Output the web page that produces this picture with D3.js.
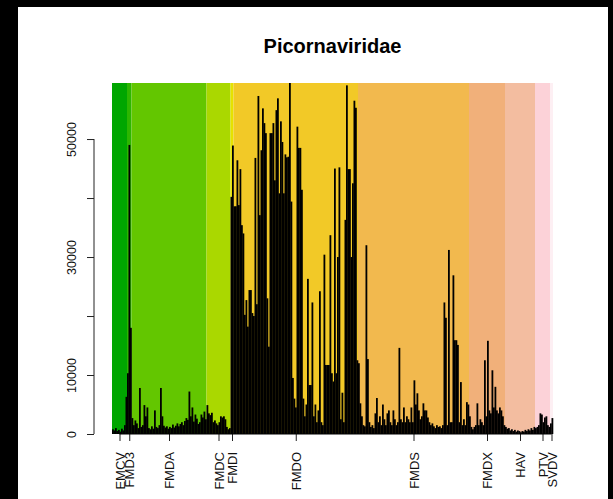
<!DOCTYPE html>
<html><head><meta charset="utf-8">
<script src="https://cdn.jsdelivr.net/npm/d3@7"></script>
<style>html,body{margin:0;padding:0;background:#000;overflow:hidden;} svg{display:block;}</style>
</head><body><svg id="chart" width="613" height="499"></svg>
<script>
// ---- data ----
const groups = ["EMCV","FMD3","FMDA","FMDC","FMDI","FMDO","FMDS","FMDX","HAV","PTV","SVDV"];
const groupColors = ["#00A600","#2DB600","#63C600","#AAD800","#E6E200","#F2C927","#F2B94E","#F1B07A","#F3BDA0","#FCD2D8","#FDEFF3"];
const emcvValues = [800,600,1000,500,700,400,900,600,1500,6300];
const fmd3Values = [10300,49000,18000];
const fmdaValues = [2700,1500,2300,1800,1000,7800,1200,1500,4900,3000,
  4500,1000,800,1300,900,4000,1200,1000,1500,7800,
  3000,1400,1100,1300,900,1200,1000,1600,1100,1400,
  1800,1300,1700,2000,1500,2200,2700,2400,7200,3000,
  4500,2100,3300,2600,1700,2000,3300,2800,3800,2500];
const fmdcValues = [4900,3500,3200,3600,2000,2300,1800,1500,2000,3000,2800,3000,2500,1200,800,1000];
const fmdiValues = [40200,48900];
const fmdoValues = [38600,38600,46400,38800,44900,35400,34000,20200,22700,18200,
  24400,24400,20500,20000,46800,22000,57300,37100,48100,55200,
  52700,51000,23000,14800,51000,51000,52700,43000,54900,56900,
  40800,53000,49500,40800,47400,46900,47000,59500,39400,9500,
  6000,4500,52100,48500,48500,41400,6000,3000,5000,26300,
  8300,8300,22300,3000,5000,2000,4000,24200,2000,1500,
  30400,11700,11700,11700,33700,10300,8900,45000,10300,30000,
  45200,2500,7000,2000,36300,59100,44900,44900,30000,42500,
  56500,55300,12500];
const fmdsValues = [12000,5200,3000,1500,1300,32000,12700,2000,1200,1500,
  1000,3500,6100,2000,3000,1500,5000,2500,1500,3500,
  4000,2000,1500,4000,2500,1500,2000,14600,2500,2000,
  4500,2000,3000,2500,2000,4500,2000,9100,5000,6900,
  4000,2500,3000,5200,4000,4000,2800,2000,1500,1800,
  1300,1000,1500,1200,1300,1000,1500,22300,19700,1500,
  31200,2000,2000,26900,15900,15900,15100,2000,8800,1500,
  2500,1500,5400,5000];
const fmdxValues = [3000,1200,800,1200,1500,5200,1500,2500,2000,1500,
  12500,3000,15800,4000,3500,10800,4500,8000,4000,3500,
  4500,4000,3000,1500];
const havValues = [1200,900,1000,600,800,500,700,400,600,500,300,500,400,700,500,800,600,1000,700,1200];
const ptvValues = [1000,1200,1500,3500,3300,2000,2800,3000,1500,1200];
const svdvValues = [1800,2700];
const yMax = 59500;
const yTicks = [0,10000,20000,30000,40000,50000];
const yTickLabels = ["0","10000","","30000","","50000"];
const titleText = "Picornaviridae";

// ---- build ----
const groupValues = [emcvValues,fmd3Values,fmdaValues,fmdcValues,fmdiValues,fmdoValues,fmdsValues,fmdxValues,havValues,ptvValues,svdvValues];
const bars = [];
const spans = [];
groupValues.forEach((arr,gi)=>{
  const start = bars.length;
  arr.forEach(v=>bars.push({g:gi,v:v}));
  spans.push({g:gi,start:start,end:bars.length});
});
const N = bars.length;

const svg = d3.select("#chart");
const font = "'Liberation Sans', Arial, Helvetica, sans-serif";
// white canvas inside black frame
svg.append("rect").attr("x",0).attr("y",0).attr("width",613).attr("height",499).attr("fill","#000");
svg.append("rect").attr("x",18).attr("y",7).attr("width",590).attr("height",492).attr("fill","#fff");

const x = d3.scaleLinear().domain([0,N]).range([112,553]);
const y = d3.scaleLinear().domain([0,yMax]).range([434,83]);

// colour bands
svg.append("g").selectAll("rect").data(spans).join("rect")
  .attr("x",d=>x(d.start)).attr("width",d=>x(d.end)-x(d.start))
  .attr("y",y(yMax)).attr("height",y(0)-y(yMax))
  .attr("fill",d=>groupColors[d.g]);

// bars (slight overlap to avoid seams between neighbours)
svg.append("g").selectAll("rect").data(bars).join("rect")
  .attr("x",(d,i)=>x(i)).attr("width",(d,i)=>x(i+1)-x(i)+0.3)
  .attr("y",d=>y(d.v)).attr("height",d=>y(0)-y(d.v))
  .attr("fill","#000");

// y axis
const yAxis = d3.axisLeft(y).tickValues(yTicks).tickFormat((d,i)=>yTickLabels[i]).tickSize(7).tickSizeOuter(0);
const gy = svg.append("g").attr("transform","translate(94,0)").call(yAxis);
gy.select(".domain").remove();
gy.append("line").attr("x1",0).attr("x2",0).attr("y1",y(yTicks[0])).attr("y2",y(yTicks[yTicks.length-1])).attr("stroke","#222");
gy.selectAll(".tick line").attr("stroke","#222");
gy.selectAll(".tick text").attr("font-family",font).attr("font-size",12.5).attr("fill","#111")
  .attr("x",0).attr("y",0).attr("dy","0.35em").attr("text-anchor","middle")
  .attr("transform","translate(-22,0) rotate(-90)");

// x axis
const centers = spans.map(s=>(s.start+s.end)/2);
const xAxis = d3.axisBottom(x).tickValues(centers).tickFormat((d,i)=>groups[i]).tickSize(7).tickSizeOuter(0);
const gx = svg.append("g").attr("transform","translate(0,434)").call(xAxis);
gx.select(".domain").remove();
gx.append("line").attr("x1",x(centers[0])).attr("x2",x(centers[centers.length-1])).attr("y1",0).attr("y2",0).attr("stroke","#000");
gx.selectAll(".tick line").attr("stroke","#222");
gx.selectAll(".tick text").attr("font-family",font).attr("font-size",13).attr("fill","#111")
  .attr("text-anchor","end").attr("x",0).attr("y",0).attr("dy","0.35em")
  .attr("transform","translate(0,18) rotate(-90)");

// title
svg.append("text").attr("x",332.5).attr("y",53).attr("text-anchor","middle")
  .attr("font-family",font).attr("font-weight","bold").attr("font-size",20).attr("fill","#000")
  .text(titleText);
</script></body></html>
